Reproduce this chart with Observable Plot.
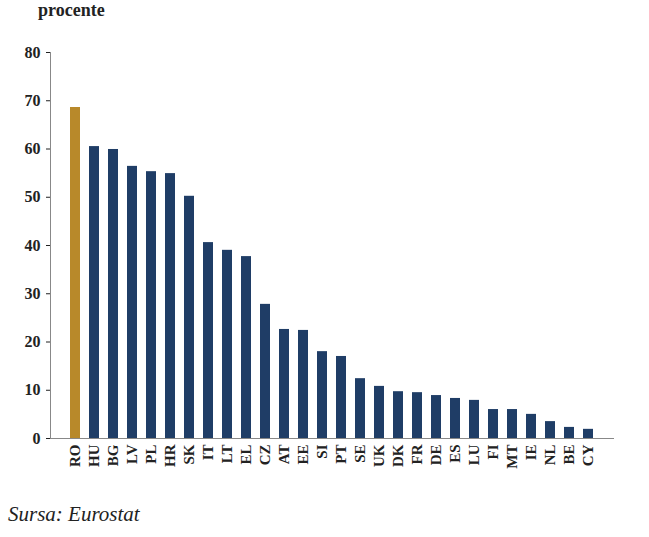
<!DOCTYPE html>
<html><head>
<script src="https://cdn.jsdelivr.net/npm/d3@7"></script>
<script src="https://cdn.jsdelivr.net/npm/@observablehq/plot@0.6"></script>
<style>
body{margin:0;background:#fff;position:relative;width:649px;height:537px;font-family:"Liberation Serif",serif;}
#t{position:absolute;left:38px;top:0px;font-size:18px;font-weight:bold;color:#222;}
#c{position:absolute;left:8px;top:502px;font-size:21px;font-style:italic;color:#222;}
#p{position:absolute;left:0;top:0;}
</style></head><body>
<div id="p"></div>
<div id="t">procente</div>
<div id="c">Sursa: Eurostat</div>
<script>
const countries=["RO","HU","BG","LV","PL","HR","SK","IT","LT","EL","CZ","AT","EE","SI","PT","SE","UK","DK","FR","DE","ES","LU","FI","MT","IE","NL","BE","CY"];
const values=[68.6,60.5,59.9,56.4,55.3,54.9,50.2,40.6,39.0,37.7,27.8,22.6,22.4,18.0,17.0,12.4,10.8,9.7,9.5,8.9,8.3,7.9,6.0,6.0,5.0,3.5,2.3,1.9];
const yTicks=[0,10,20,30,40,50,60,70,80];
const data=countries.map((c,i)=>({c,v:values[i]}));
const chart=Plot.plot({
  width:649,height:500,marginTop:52,marginBottom:62,marginLeft:50,marginRight:35,
  style:{fontFamily:"Liberation Serif, serif",fontSize:"16px",fontWeight:"bold",color:"#222",background:"white"},
  x:{domain:countries,padding:0.45,label:null},
  y:{domain:[0,80],label:null},
  marks:[
    Plot.barY(data,{x:"c",y:"v",fill:d=>d.c==="RO"?"#b8892a":"#1f3d66"}),
    Plot.axisX({tickRotate:-90,tickSize:0,tickPadding:6,label:null,fontSize:15}),
    Plot.axisY({ticks:yTicks,tickSize:4,tickPadding:6,label:null}),
    Plot.ruleY([0],{stroke:"#888"}),
    Plot.frame({anchor:"left",stroke:"#888"})
  ]
});
document.getElementById("p").appendChild(chart);
</script>
</body></html>
